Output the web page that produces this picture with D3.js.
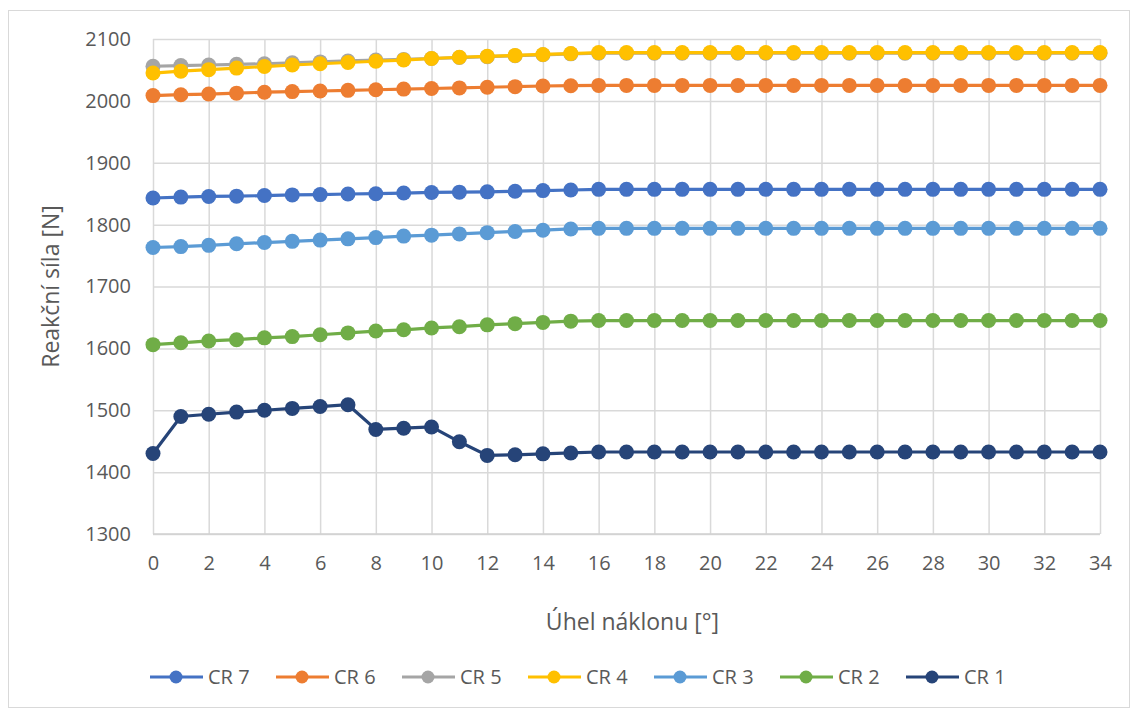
<!DOCTYPE html>
<html>
<head>
<meta charset="utf-8">
<script src="https://cdn.jsdelivr.net/npm/d3@7"></script>
<style>
  body { margin: 0; background: #fff; }
  text { font-family: "Open Sans", sans-serif; fill: #595959; }
</style>
</head>
<body>
<svg id="chart" width="1131" height="709"></svg>
<script>
// angles 0..34
const angles = d3.range(0, 35);

const cr7 = [1843, 1844.5, 1845.5, 1846, 1847, 1848, 1848.5, 1849.5, 1850, 1851, 1852, 1852.5, 1853, 1854, 1855, 1856, 1857,
  1857, 1857, 1857, 1857, 1857, 1857, 1857, 1857, 1857, 1857, 1857, 1857, 1857, 1857, 1857, 1857, 1857, 1857];
const cr6 = [2008.5, 2010, 2011, 2012.5, 2014, 2015, 2016, 2017, 2018, 2019, 2020, 2021, 2022, 2023, 2024, 2024.5, 2025,
  2025, 2025, 2025, 2025, 2025, 2025, 2025, 2025, 2025, 2025, 2025, 2025, 2025, 2025, 2025, 2025, 2025, 2025];
const cr5 = [2056, 2057, 2058, 2059, 2060, 2061.5, 2063, 2064.5, 2066, 2067, 2068.5, 2070, 2071.5, 2073, 2074.5, 2076, 2077,
  2077, 2077, 2077, 2077, 2077, 2077, 2077, 2077, 2077, 2077, 2077, 2077, 2077, 2077, 2077, 2077, 2077, 2077];
const cr4 = [2045, 2048, 2050.5, 2053, 2055.5, 2058, 2060, 2062, 2064, 2066, 2068.5, 2070.5, 2072, 2073.5, 2075, 2076.5, 2078,
  2078, 2078, 2078, 2078, 2078, 2078, 2078, 2078, 2078, 2078, 2078, 2078, 2078, 2078, 2078, 2078, 2078, 2078];
const cr3 = [1763, 1764.5, 1766.5, 1769, 1771, 1773, 1775, 1777, 1779, 1781.5, 1783, 1785, 1787, 1789, 1791, 1793, 1794,
  1794, 1794, 1794, 1794, 1794, 1794, 1794, 1794, 1794, 1794, 1794, 1794, 1794, 1794, 1794, 1794, 1794, 1794];
const cr2 = [1606, 1609, 1612, 1614, 1617, 1619, 1622, 1625, 1628, 1630, 1633, 1635, 1638, 1640, 1642, 1644, 1645,
  1645, 1645, 1645, 1645, 1645, 1645, 1645, 1645, 1645, 1645, 1645, 1645, 1645, 1645, 1645, 1645, 1645, 1645];
const cr1 = [1430, 1490, 1493.5, 1497, 1500, 1503, 1506, 1509, 1469, 1471, 1473, 1449, 1427, 1428, 1429.5, 1431, 1432.5,
  1432.5, 1432.5, 1432.5, 1432.5, 1432.5, 1432.5, 1432.5, 1432.5, 1432.5, 1432.5, 1432.5, 1432.5, 1432.5, 1432.5, 1432.5, 1432.5, 1432.5, 1432.5];

const seriesNames = ["CR 7", "CR 6", "CR 5", "CR 4", "CR 3", "CR 2", "CR 1"];
const seriesValues = [cr7, cr6, cr5, cr4, cr3, cr2, cr1];
const colors = ["#4472C4", "#ED7D31", "#A5A5A5", "#FFC000", "#5B9BD5", "#70AD47", "#264478"];

const yTicks = [1300, 1400, 1500, 1600, 1700, 1800, 1900, 2000, 2100];
const xTicks = d3.range(0, 35, 2);

const svg = d3.select("#chart");

// chart frame
svg.append("rect")
  .attr("x", 8.5).attr("y", 10.5)
  .attr("width", 1121).attr("height", 697)
  .attr("fill", "#fff").attr("stroke", "#d9d9d9");

const plotL = 153, plotR = 1100, plotT = 39, plotB = 534;

const xScale = d3.scaleLinear().domain([0, 34]).range([plotL, plotR]);
const yScale = d3.scaleLinear().domain([1300, 2100]).range([plotB, plotT]);

// horizontal gridlines + y labels
const yAxis = svg.append("g")
  .attr("transform", `translate(${plotL},0)`)
  .call(d3.axisLeft(yScale).tickValues(yTicks).tickFormat(d3.format("d"))
    .tickSize(-(plotR - plotL)).tickPadding(22));
yAxis.select(".domain").remove();
yAxis.selectAll("line").attr("stroke", "#d9d9d9").attr("stroke-width", 1.5);
yAxis.selectAll("text").style("font-size", "20px").attr("fill", "#595959");

// vertical gridlines + x labels
const xAxis = svg.append("g")
  .attr("transform", `translate(0,${plotB})`)
  .call(d3.axisBottom(xScale).tickValues(xTicks).tickSize(-(plotB - plotT)).tickPadding(22));
xAxis.select(".domain").remove();
xAxis.selectAll("line").attr("stroke", "#d9d9d9").attr("stroke-width", 1.5);
xAxis.selectAll("text").style("font-size", "20px").attr("fill", "#595959");

// bottom axis line
svg.append("line")
  .attr("x1", plotL).attr("x2", plotR)
  .attr("y1", plotB).attr("y2", plotB)
  .attr("stroke", "#d0d0d0").attr("stroke-width", 1.5);

// axis titles
svg.append("text")
  .attr("transform", `translate(59,${(plotT + plotB) / 2}) rotate(-90)`)
  .attr("text-anchor", "middle")
  .style("font-size", "23px")
  .text("Reakční síla [N]");

svg.append("text")
  .attr("x", (plotL + plotR) / 2 + 6).attr("y", 630)
  .attr("text-anchor", "middle")
  .style("font-size", "23px")
  .text("Úhel náklonu [°]");

// series
const line = d3.line()
  .x((d, i) => xScale(angles[i]))
  .y(d => yScale(d));

seriesValues.forEach((vals, k) => {
  const g = svg.append("g");
  g.append("path")
    .datum(vals)
    .attr("d", line)
    .attr("fill", "none")
    .attr("stroke", colors[k])
    .attr("stroke-width", 3.2);
  g.selectAll("circle")
    .data(vals)
    .join("circle")
    .attr("cx", (d, i) => xScale(angles[i]))
    .attr("cy", d => yScale(d))
    .attr("r", 7.5)
    .attr("fill", colors[k]);
});

// legend
const legend = svg.append("g").attr("transform", "translate(150,677)");
seriesNames.forEach((name, k) => {
  const item = legend.append("g").attr("transform", `translate(${k * 126},0)`);
  item.append("line")
    .attr("x1", 0).attr("x2", 53)
    .attr("stroke", colors[k]).attr("stroke-width", 3.2);
  item.append("circle")
    .attr("cx", 26).attr("r", 6.5)
    .attr("fill", colors[k]);
  item.append("text")
    .attr("x", 58).attr("y", 7)
    .style("font-size", "20px")
    .text(name);
});
</script>
</body>
</html>
